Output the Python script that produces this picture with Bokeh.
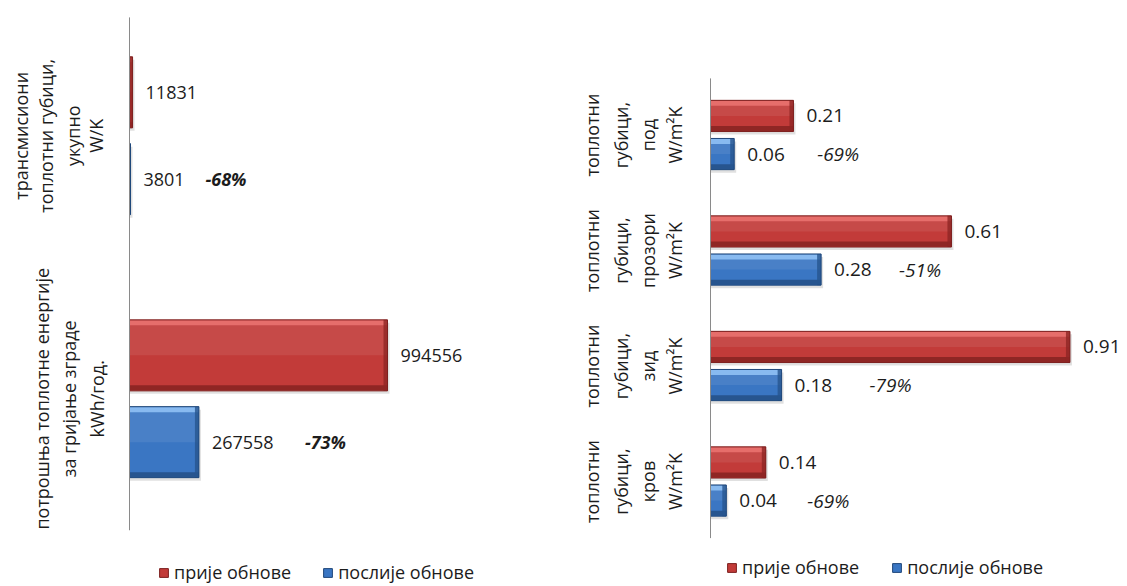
import numpy as np
from bokeh.plotting import figure
from bokeh.layouts import row
from bokeh.models import ColumnDataSource, Range1d, Legend, LegendItem
from bokeh.core.properties import value
from bokeh.embed import file_html
from bokeh.resources import INLINE

# ---------------- data ----------------
series_names = ["прије обнове", "послије обнове"]

left_categories = [
    ["трансмисиони", "топлотни губици,", "укупно", "W/K"],
    ["потрошња топлотне енергије", "за гријање зграде", "kWh/год."],
]
left_before = [11831, 994556]
left_after = [3801, 267558]
left_change = ["-68%", "-73%"]

right_categories = [
    ["топлотни", "губици,", "под", "W/m²K"],
    ["топлотни", "губици,", "прозори", "W/m²K"],
    ["топлотни", "губици,", "зид", "W/m²K"],
    ["топлотни", "губици,", "кров", "W/m²K"],
]
right_before = [0.21, 0.61, 0.91, 0.14]
right_after = [0.06, 0.28, 0.18, 0.04]
right_change = ["-69%", "-51%", "-79%", "-69%"]

# ---------------- style / layout ----------------
FONT = "Open Sans"
H = 586
BAR_H = 0.27      # bar thickness, fraction of a category
DODGE = 0.165     # offset of each series from category centre
RED = dict(mid="#c23b39", light="#e66e6b", dark="#8f2624", edge="#7c1f1e")
BLUE = dict(mid="#3a76c3", light="#88baf0", dark="#27558f", edge="#1f477a")
TXT = "#1c1c1c"


def panel(width, left_px, axis_px, px_per_unit, cat_px, first_cat_px, cats,
          before, after, changes, fmt, val_size, cat_size, line_px, pct_px,
          pct_style, axis_span, legend_px, legend_y, legend_spacing):
    ux = 1.0 / px_per_unit
    uy = 1.0 / cat_px
    x0 = -(axis_px - left_px) * ux
    x1 = x0 + width * ux
    y_top = -first_cat_px * uy
    y_bot = y_top + H * uy
    p = figure(width=width, height=H, x_range=Range1d(x0, x1),
               y_range=Range1d(y_bot, y_top), output_backend="svg",
               toolbar_location=None, min_border=0, title=None,
               x_axis_location=None, y_axis_location=None)
    p.outline_line_color = None
    p.grid.visible = False
    p.background_fill_color = "white"
    p.border_fill_color = "white"

    idx = np.arange(len(cats), dtype=float)
    legend_items = []
    for vals, yoff, col, name in ((before, -DODGE, RED, series_names[0]),
                                  (after, DODGE, BLUE, series_names[1])):
        v = np.asarray(vals, dtype=float)
        y = idx + yoff
        src = ColumnDataSource(dict(y=y, v=v, zero=np.zeros_like(v),
                                    ys=y + 3 * uy, vs=v + 2 * ux,
                                    yh=y - BAR_H / 4,
                                    yt=y - BAR_H / 2 + 3 * uy,
                                    yb=y + BAR_H / 2 - 3 * uy,
                                    rl=np.maximum(v - 4 * ux, 0)))
        # shadow
        p.hbar(y="ys", left="zero", right="vs", height=BAR_H, source=src,
               fill_color="black", fill_alpha=0.12, line_color=None)
        base = p.hbar(y="y", left="zero", right="v", height=BAR_H, source=src,
                      fill_color=col["mid"], line_color=None)
        # lighter upper half (gloss)
        p.hbar(y="yh", left="zero", right="v", height=BAR_H / 2, source=src,
               fill_color="white", fill_alpha=0.08, line_color=None)
        p.hbar(y="yt", left="zero", right="v", height=5 * uy, source=src,
               fill_color=col["light"], line_color=None)
        p.hbar(y="yb", left="zero", right="v", height=5 * uy, source=src,
               fill_color=col["dark"], line_color=None)
        p.hbar(y="y", left="rl", right="v", height=BAR_H, source=src,
               fill_color=col["dark"], fill_alpha=0.8, line_color=None)
        edge = p.hbar(y="y", left="zero", right="v", height=BAR_H, source=src,
                      fill_alpha=0, line_color=col["edge"], line_width=1)
        legend_items.append(LegendItem(label=name, renderers=[base, edge]))

        lab = ColumnDataSource(dict(x=v + 13 * ux, y=y,
                                    t=[fmt(a) for a in vals]))
        p.text(x="x", y="y", text="t", source=lab, text_font=value(FONT),
               text_font_size=val_size, text_color=TXT,
               text_baseline="middle", text_align="left")

    va = np.asarray(after, dtype=float)
    pct = ColumnDataSource(dict(x=va + 13 * ux + np.asarray(pct_px) * ux,
                                y=idx + DODGE, t=changes))
    p.text(x="x", y="y", text="t", source=pct, text_font=value(FONT),
           text_font_size=val_size, text_font_style=pct_style,
           text_color=TXT, text_baseline="middle", text_align="left")

    # category axis line
    p.segment(x0=[0], y0=[axis_span[0]], x1=[0], y1=[axis_span[1]],
              line_color="#8a8a8a", line_width=1)

    # category labels (rotated, one glyph per line)
    xs, ys, ts = [], [], []
    for i, lines in enumerate(cats):
        pos = line_px[i]
        for j, t in enumerate(lines):
            xs.append((pos[j] - axis_px) * ux)
            ys.append(idx[i])
            ts.append(t)
    p.text(x=xs, y=ys, text=ts, angle=np.pi / 2, text_font=value(FONT),
           text_font_size=cat_size, text_color=TXT,
           text_align="center", text_baseline="middle")

    leg = Legend(items=legend_items, orientation="horizontal",
                 location=(legend_px - left_px, legend_y),
                 glyph_width=11, glyph_height=11, label_standoff=5,
                 spacing=legend_spacing, padding=0, margin=0,
                 border_line_color=None, background_fill_alpha=0,
                 label_text_font=FONT, label_text_font_size="18px",
                 label_text_color=TXT)
    p.add_layout(leg)
    return p


left = panel(width=568, left_px=0, axis_px=129, px_per_unit=258 / 994556,
             cat_px=263, first_cat_px=135.25, cats=left_categories,
             before=left_before, after=left_after, changes=left_change,
             fmt=lambda a: f"{int(a)}", val_size="18px", cat_size="18px",
             line_px=[[20, 45, 72, 95], [41, 68, 96]], pct_px=[62, 93],
             pct_style="bold italic", axis_span=(-0.45, 1.5),
             legend_px=158, legend_y=2, legend_spacing=31)

right = panel(width=559, left_px=568, axis_px=710, px_per_unit=395,
              cat_px=115.5, first_cat_px=134.5, cats=right_categories,
              before=right_before, after=right_after, changes=right_change,
              fmt=lambda a: f"{a:.2f}", val_size="19px", cat_size="18px",
              line_px=[[591, 620, 647, 674]] * 4, pct_px=[70, 65, 75, 68],
              pct_style="italic", axis_span=(-0.49, 3.49),
              legend_px=726, legend_y=7, legend_spacing=32)

layout = row(left, right)
open("out.html", "w").write(file_html(layout, INLINE))
